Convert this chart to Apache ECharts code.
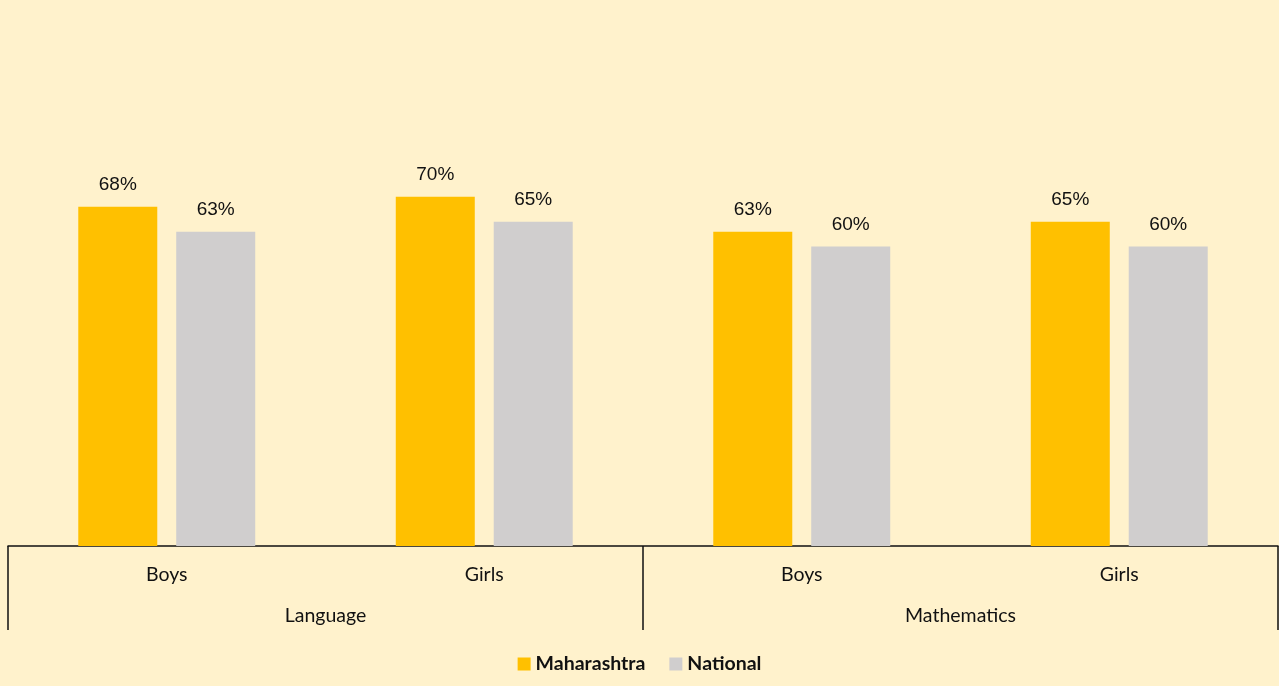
<!DOCTYPE html>
<html>
<head>
<meta charset="utf-8">
<script src="https://cdn.jsdelivr.net/npm/echarts@6/dist/echarts.min.js"></script>
<style>
  html, body { margin: 0; padding: 0; background: #FFF2CC; }
  #chart { width: 1279px; height: 686px; }
</style>
</head>
<body>
<div id="chart"></div>
<script>
  // data
  const categories = ['Boys', 'Girls', 'Boys', 'Girls'];
  const groups = ['Language', 'Mathematics'];
  const maharashtra = [68, 70, 63, 65];
  const national = [63, 65, 60, 60];

  const labelFont = "'Liberation Sans Narrow', 'Liberation Sans', Arial, sans-serif";
  const textFont = "Lato, 'Open Sans', sans-serif";

  let chart = echarts.init(document.getElementById('chart'));

  let valueLabel = {
    show: true,
    position: 'top',
    distance: 12,
    formatter: p => p.value + '%',
    color: '#111',
    fontSize: 19,
    fontFamily: labelFont
  };

  let option = {
    backgroundColor: '#FFF2CC',
    animation: false,
    grid: {left: 8, right: 1, top: 47, bottom: 140},
    legend: {
      bottom: 7,
      left: 'center',
      itemWidth: 13,
      itemHeight: 13,
      itemGap: 24,
      icon: 'rect',
      textStyle: {fontSize: 19.5, fontWeight: 'bold', color: '#111', fontFamily: textFont},
      data: ['Maharashtra', 'National']
    },
    xAxis: [
      {
        type: 'category',
        data: categories,
        position: 'bottom',
        axisLine: {show: true, lineStyle: {color: '#111', width: 1.5}},
        axisTick: {show: false},
        axisLabel: {margin: 19, fontSize: 19.5, color: '#111', fontFamily: textFont}
      },
      {
        type: 'category',
        data: groups,
        position: 'bottom',
        axisLine: {show: false},
        axisTick: {show: true, length: 84, lineStyle: {color: '#111', width: 1.5}},
        axisLabel: {margin: 60, fontSize: 19.5, color: '#111', fontFamily: textFont}
      }
    ],
    yAxis: {
      type: 'value',
      min: 0,
      max: 100,
      show: false,
      splitLine: {show: false}
    },
    series: [
      {
        name: 'Maharashtra',
        type: 'bar',
        xAxisIndex: 0,
        data: maharashtra,
        barWidth: 79,
        barGap: '24%',
        itemStyle: {color: '#FFC000'},
        label: valueLabel
      },
      {
        name: 'National',
        type: 'bar',
        xAxisIndex: 0,
        data: national,
        barWidth: 79,
        barGap: '24%',
        itemStyle: {color: '#D0CECE'},
        label: valueLabel
      }
    ]
  };

  chart.setOption(option);
</script>
</body>
</html>
